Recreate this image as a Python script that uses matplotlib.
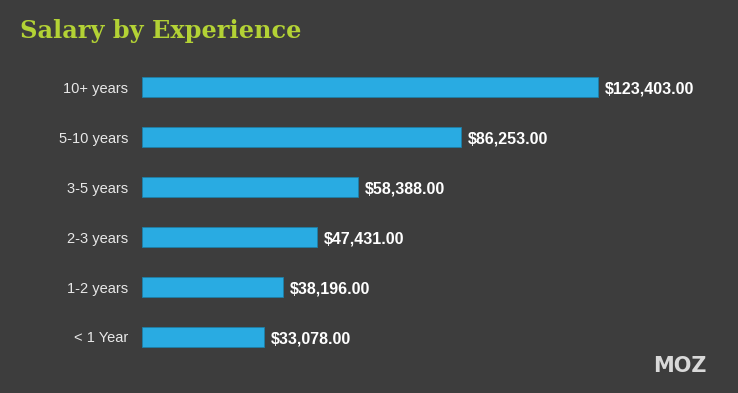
import numpy as np
import matplotlib.pyplot as plt

categories = ['< 1 Year', '1-2 years', '2-3 years', '3-5 years', '5-10 years', '10+ years']
salaries = [33078.00, 38196.00, 47431.00, 58388.00, 86253.00, 123403.00]

bg = '#3d3d3d'
bar_color = '#29abe2'

fig = plt.figure(figsize=(7.38, 3.93), dpi=100, facecolor=bg)
ax = fig.add_axes([142/738, 31/393, 578/738, 300/393], facecolor=bg)

y = np.arange(len(categories))
ax.barh(y, salaries, height=0.4, color=bar_color, edgecolor='#1d7fa8', linewidth=0.6)

ax.set_xlim(0, 123403 * 578 / 456)
ax.set_ylim(-0.5, 5.5)
for v, yy in zip(salaries, y):
    ax.text(v + 123403 * 7 / 456, yy - 0.04, '${:,.2f}'.format(v), color='white',
            fontsize=11.5, fontweight='bold', family='Liberation Sans',
            va='center', ha='left')

ax.set_yticks(y)
ax.set_yticklabels(categories, color='#e8e8e8', fontsize=10.5, family='Liberation Sans')
ax.tick_params(axis='y', length=0, pad=10)
ax.set_xticks([])
for s in ax.spines.values():
    s.set_visible(False)

fig.text(20/738, 1 - 31/393, 'Salary by Experience', color='#b3d235',
         fontsize=17.3, fontweight='bold', family='DejaVu Serif', va='center', ha='left')
fig.text(680/738, 1 - 366/393, 'MOZ', color='#d9d9d9', fontsize=15,
         fontweight='bold', family='DejaVu Sans', va='center', ha='center')

fig.savefig('out.png', dpi=100, facecolor=bg)
